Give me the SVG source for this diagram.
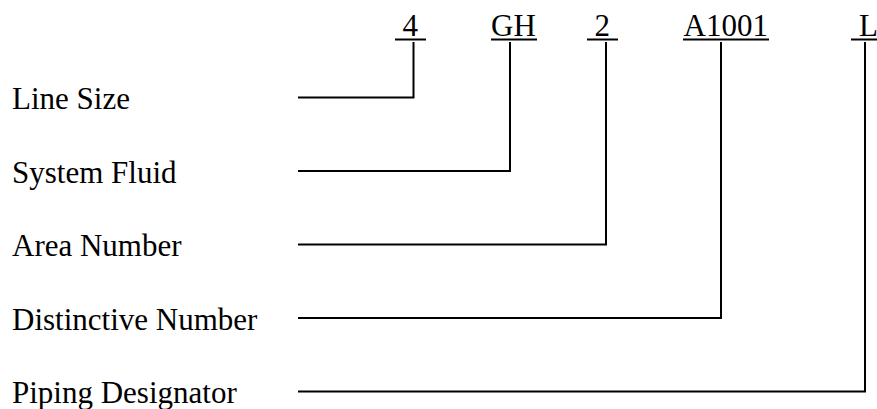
<svg xmlns="http://www.w3.org/2000/svg" width="877" height="409" viewBox="0 0 877 409">
<style>
text{font-family:"Liberation Serif","Times New Roman",serif;font-size:31px;fill:#000}
.ln{stroke:#000;stroke-width:2;fill:none}
</style>
<rect width="877" height="409" fill="#fff"/>
<g id="code">
<g id="c-4"><text x="402.5" y="35.5">4</text><line class="ln" x1="395" y1="39.5" x2="426" y2="39.5"/></g>
<g id="c-GH"><text x="491" y="35.5">GH</text><line class="ln" x1="491" y1="39.5" x2="537" y2="39.5"/></g>
<g id="c-2"><text x="594.5" y="35.5">2</text><line class="ln" x1="587" y1="39.5" x2="618" y2="39.5"/></g>
<g id="c-A1001"><text x="683.5" y="35.5">A1001</text><line class="ln" x1="683" y1="39.5" x2="769" y2="39.5"/></g>
<g id="c-L"><text x="859" y="35.5">L</text><line class="ln" x1="851" y1="39.5" x2="877" y2="39.5"/></g>
</g>
<g id="label-line-size"><text x="12" y="109">Line Size</text></g>
<g id="label-system-fluid"><text x="12" y="182.5">System Fluid</text></g>
<g id="label-area-number"><text x="12" y="256">Area Number</text></g>
<g id="label-distinctive-number"><text x="12" y="329.5">Distinctive Number</text></g>
<g id="label-piping-designator"><text x="12" y="403">Piping Designator</text></g>
<g id="connectors">
<polyline class="ln" points="298,97.5 413.5,97.5 413.5,42"/>
<polyline class="ln" points="298,171 510,171 510,42"/>
<polyline class="ln" points="298,244.5 606,244.5 606,42"/>
<polyline class="ln" points="298,318 721,318 721,42"/>
<polyline class="ln" points="298,391.5 865,391.5 865,42"/>
</g>
</svg>
